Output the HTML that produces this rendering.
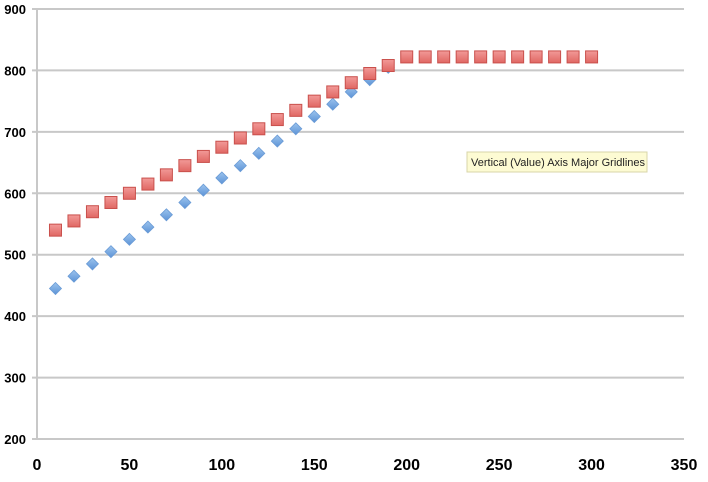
<!DOCTYPE html>
<html><head><meta charset="utf-8"><style>
body{margin:0;background:#fff;width:708px;height:477px;overflow:hidden;font-family:"Liberation Sans",sans-serif}
</style></head><body>
<svg id="chart" width="708" height="477" xmlns="http://www.w3.org/2000/svg">
<defs>
<linearGradient id="rg" x1="0" y1="0" x2="0" y2="1"><stop offset="0" stop-color="#f29a98"/><stop offset="1" stop-color="#e06763"/></linearGradient>
<linearGradient id="bg" x1="0" y1="0" x2="0" y2="1"><stop offset="0" stop-color="#9cc4ee"/><stop offset="1" stop-color="#5d93d6"/></linearGradient>
</defs>
<g id="grid"></g>
<g id="axes"></g>
<g id="blue"></g>
<g id="red"></g>
<g>
<rect x="467" y="152" width="180" height="20" fill="#fdfbd3" stroke="#d8d6a8"/>
<text x="471" y="166" font-size="11" fill="#222">Vertical (Value) Axis Major Gridlines</text>
</g>
</svg>
<script>
const xTicks=[0,50,100,150,200,250,300,350];
const yTicks=[200,300,400,500,600,700,800,900];
const blueX=[10,20,30,40,50,60,70,80,90,100,110,120,130,140,150,160,170,180,190];
const blueY=[445,465,485,505,525,545,565,585,605,625,645,665,685,705,725,745,765,785,805];
const redX=[10,20,30,40,50,60,70,80,90,100,110,120,130,140,150,160,170,180,190,200,210,220,230,240,250,260,270,280,290,300];
const redY=[540,555,570,585,600,615,630,645,660,675,690,705,720,735,750,765,780,795,808,822,822,822,822,822,822,822,822,822,822,822];
const NS="http://www.w3.org/2000/svg";
const X0=37,X1=684,Y0=439,Y1=9;
function sx(v){return X0+(v-0)/(350-0)*(X1-X0);}
function sy(v){return Y0-(v-200)/(900-200)*(Y0-Y1);}
function mk(t,a,p){const e=document.createElementNS(NS,t);for(const k in a)e.setAttribute(k,a[k]);p.appendChild(e);return e;}
const grid=document.getElementById('grid'),axes=document.getElementById('axes');
yTicks.forEach(v=>{
 const l=mk('line',{x1:X0-5,x2:X1,y1:sy(v),y2:sy(v),stroke:'#c8c8c8','stroke-width':2},grid);
 
 
 const t=mk('text',{x:26,y:sy(v)+5,'text-anchor':'end','font-size':13,'font-weight':'bold',fill:'#000'},axes);
 t.textContent=v;
 
 
});
const ya=mk('line',{x1:X0,x2:X0,y1:Y1,y2:Y0,stroke:'#c8c8c8','stroke-width':2},axes);


xTicks.forEach(v=>{
 const t=mk('text',{x:sx(v),y:470,'text-anchor':'middle','font-size':16,'font-weight':'bold',fill:'#000'},axes);
 t.textContent=v;
 
 
});
const bg=document.getElementById('blue');
blueX.forEach((x,i)=>{
 const cx=sx(x),cy=sy(blueY[i]);
 const p=mk('polygon',{points:`${cx},${cy-6} ${cx+6},${cy} ${cx},${cy+6} ${cx-6},${cy}`,fill:'url(#bg)',stroke:'#6a9bd6','stroke-width':0.8},bg);
 
 
});
const rg=document.getElementById('red');
redX.forEach((x,i)=>{
 const cx=sx(x),cy=sy(redY[i]);
 const r=mk('rect',{x:cx-6,y:cy-6,width:12,height:12,fill:'url(#rg)',stroke:'#c9504c','stroke-width':1},rg);
 
 
});
</script>
</body></html>
